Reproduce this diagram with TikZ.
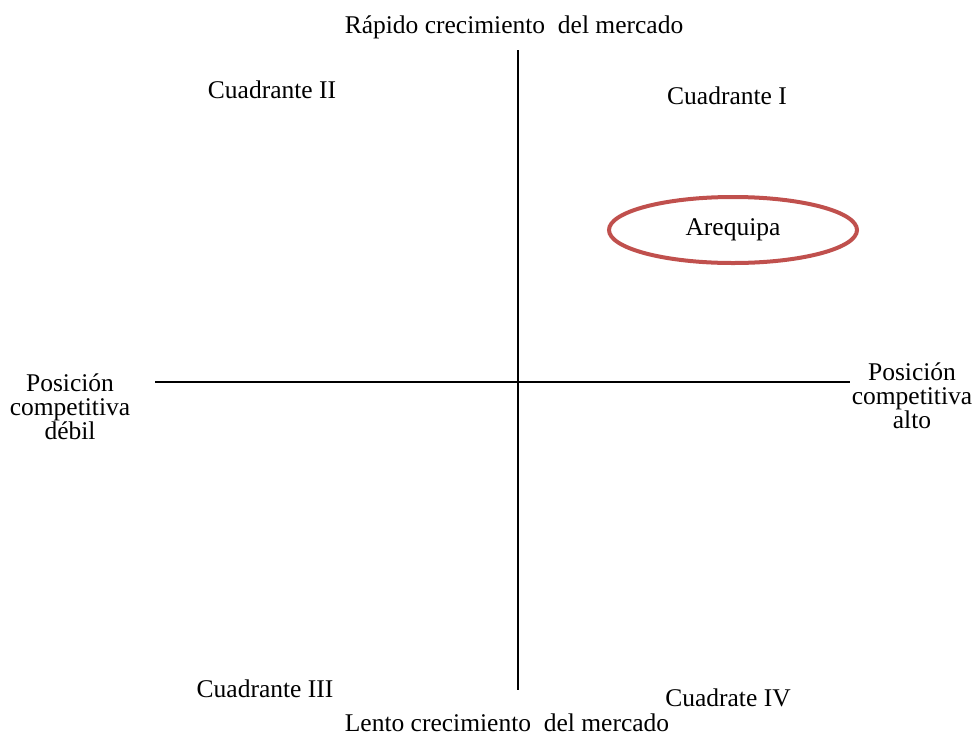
\documentclass[tikz,border=0pt]{standalone}
\usepackage{fontspec}
\setmainfont{Liberation Serif}
\usetikzlibrary{shapes.geometric}
\definecolor{ovalred}{RGB}{192,80,77}
\begin{document}
\begin{tikzpicture}[x=1pt,y=-1pt,
  lbl/.style={font=\fontsize{25.5}{24}\selectfont, inner sep=0pt, align=center},
  axis/.style={line width=2pt, black}]
\useasboundingbox (0,0) rectangle (974,737);
\coordinate (vtop) at (518,50);
\coordinate (vbot) at (518,690);
\coordinate (hl) at (155,382);
\coordinate (hr) at (850,382);
\draw[axis] (vtop) -- (vbot);
\draw[axis] (hl) -- (hr);
\node[lbl] (top) at (514,27) {Rápido crecimiento\ \ del mercado};
\node[lbl] (bot) at (507,723) {Lento crecimiento\ \ del mercado};
\node[lbl] (q2) at (272,90) {Cuadrante II};
\node[lbl] (q1) at (727,96) {Cuadrante I};
\node[lbl] (q3) at (265,689) {Cuadrante III};
\node[lbl] (q4) at (728,698) {Cuadrate IV};
\node[lbl] (left) at (70,407) {Posición\\competitiva\\débil};
\node[lbl] (right) at (912,396) {Posición\\competitiva\\alto};
\node[ellipse, draw=ovalred, line width=4pt, minimum width=248pt, minimum height=66pt, inner sep=0pt, font=\fontsize{25.5}{24}\selectfont] (areq) at (733,230) {Arequipa};
\end{tikzpicture}
\end{document}
